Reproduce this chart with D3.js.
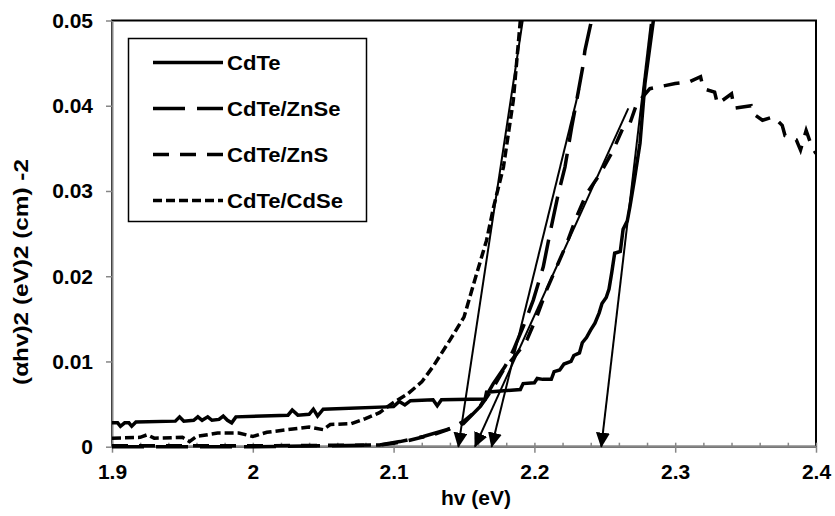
<!DOCTYPE html>
<html>
<head>
<meta charset="utf-8">
<script src="https://cdn.jsdelivr.net/npm/d3@7"></script>
<style>
  body { margin: 0; background: #fff; }
  text { font-family: "Liberation Sans", Arial, sans-serif; font-weight: bold; fill: #000; }
</style>
</head>
<body>
<div id="chart"></div>
<script>
// data: [hv (eV), (ahv)^2]
const cdte = [[1.900,0.0028],[1.904,0.0028],[1.906,0.0024],[1.909,0.0028],[1.912,0.0028],[1.914,0.0024],[1.917,0.0029],
  [1.945,0.0030],[1.948,0.0035],[1.951,0.0030],[1.958,0.0031],[1.961,0.0035],[1.964,0.0031],[1.968,0.0035],[1.971,0.0031],
  [1.976,0.0032],[1.979,0.0036],[1.982,0.0031],[1.985,0.0028],[1.988,0.0035],[2.025,0.0037],[2.028,0.0043],[2.032,0.0037],
  [2.040,0.0038],[2.043,0.0044],[2.046,0.0036],[2.050,0.0044],[2.100,0.0047],[2.104,0.0053],[2.108,0.0049],[2.112,0.0054],
  [2.128,0.0055],[2.131,0.0048],[2.134,0.0055],[2.165,0.0056],[2.166,0.0064],[2.190,0.0067],[2.192,0.0074],[2.200,0.0075],
  [2.202,0.0080],[2.206,0.0079],[2.212,0.0079],[2.214,0.0088],[2.218,0.0090],[2.221,0.0097],[2.226,0.0100],[2.228,0.0107],
  [2.232,0.0110],[2.234,0.0122],[2.237,0.0128],[2.240,0.0137],[2.243,0.0145],[2.246,0.0157],[2.248,0.0168],[2.251,0.0175],
  [2.253,0.0185],[2.255,0.0205],[2.257,0.0227],[2.261,0.0229],[2.263,0.0255],[2.266,0.0265],[2.268,0.0283],[2.271,0.0313],
  [2.275,0.0356],[2.2785,0.0426],[2.2845,0.0500],[2.287,0.0540]];

const znse = [[1.900,0.0000],[2.000,0.0000],[2.090,0.0002],[2.1045,0.0006],[2.1211,0.0012],[2.1377,0.0020],[2.1495,0.0027],
  [2.1614,0.0047],[2.1708,0.0074],[2.1791,0.0094],[2.185,0.0113],[2.1921,0.0141],[2.1992,0.0172],[2.2063,0.0211],
  [2.211,0.0250],[2.217,0.0297],[2.2217,0.0328],[2.2265,0.0375],[2.230,0.0406],[2.2343,0.0445],[2.2359,0.0465],
  [2.240,0.0496],[2.242,0.0530]];

const zns = [[1.900,0.0001],[2.000,0.0001],[2.090,0.0002],[2.100,0.0004],[2.110,0.0007],[2.120,0.0011],[2.130,0.0015],
  [2.140,0.0021],[2.150,0.0030],[2.160,0.0044],[2.165,0.0055],[2.171,0.0070],[2.178,0.0090],[2.1875,0.0109],[2.1946,0.0125],
  [2.2016,0.0152],[2.2087,0.0184],[2.2158,0.0211],[2.2229,0.0238],[2.230,0.0270],[2.2371,0.0297],[2.2466,0.0320],
  [2.256,0.0348],[2.2632,0.0375],[2.268,0.0380],[2.2726,0.0402],[2.282,0.0420],[2.300,0.0426],[2.310,0.0428],
  [2.318,0.0434],[2.320,0.0420],[2.328,0.0416],[2.330,0.0402],[2.340,0.0414],[2.342,0.0397],[2.354,0.0400],
  [2.356,0.0390],[2.362,0.0383],[2.370,0.0387],[2.376,0.0377],[2.378,0.0365],[2.386,0.0360],[2.389,0.0348],
  [2.393,0.0371],[2.397,0.0352],[2.400,0.0344]];

const cdse = [[1.900,0.0010],[1.920,0.0011],[1.925,0.0014],[1.930,0.0010],[1.950,0.0011],[1.955,0.0006],[1.960,0.0012],
  [1.975,0.0016],[1.990,0.0016],[2.000,0.0012],[2.010,0.0017],[2.020,0.0019],[2.030,0.0021],[2.040,0.0023],[2.050,0.0020],
  [2.055,0.0026],[2.070,0.0027],[2.080,0.0033],[2.090,0.0040],[2.100,0.0052],[2.110,0.0062],[2.120,0.0076],[2.128,0.0094],
  [2.140,0.0125],[2.150,0.0152],[2.159,0.0203],[2.166,0.0242],[2.171,0.0281],[2.178,0.0328],[2.185,0.0406],[2.190,0.0500],
  [2.192,0.0530]];

const seriesNames = ["CdTe", "CdTe/ZnSe", "CdTe/ZnS", "CdTe/CdSe"];
const seriesData = [cdte, znse, zns, cdse];

// tangent lines: top point and band-gap intercept on the x axis
const tangentTop = [[2.1917,0.0500],[2.2319,0.0420],[2.2667,0.0397],[2.2826,0.0496]];
const tangentGap = [2.146, 2.1696, 2.1578, 2.2475];

const xTicks = [1.9, 2.0, 2.1, 2.2, 2.3, 2.4];
const xTickLabels = ["1.9", "2", "2.1", "2.2", "2.3", "2.4"];
const xMinorTicks = d3.range(0, 26).map(i => 1.9 + i * 0.02);
const yTicks = [0, 0.01, 0.02, 0.03, 0.04, 0.05];
const yTickLabels = ["0", "0.01", "0.02", "0.03", "0.04", "0.05"];

const w = 835, h = 516;
const m = { left: 112, right: 816, top: 20.5, bottom: 446.7 };

const dashes = [null, "32,12", "16,11", "9,4"];

const svg = d3.select("#chart").append("svg").attr("width", w).attr("height", h);

const x = d3.scaleLinear().domain([1.9, 2.4]).range([m.left, m.right]);
const y = d3.scaleLinear().domain([0, 0.05]).range([m.bottom, m.top]);

function stretch(sel, k) {
  sel.each(function () {
    const len = this.getComputedTextLength();
    d3.select(this).attr("textLength", len * k).attr("lengthAdjust", "spacingAndGlyphs");
  });
}

const defs = svg.append("defs");
defs.append("clipPath").attr("id", "plotClip")
  .append("rect").attr("x", m.left).attr("y", m.top).attr("width", m.right - m.left).attr("height", m.bottom - m.top + 3);
defs.append("marker").attr("id", "arrow")
  .attr("viewBox", "0 0 15 14").attr("refX", 14).attr("refY", 7)
  .attr("markerWidth", 15).attr("markerHeight", 14)
  .attr("markerUnits", "userSpaceOnUse").attr("orient", "auto")
  .append("path").attr("d", "M0,0L15,7L0,14Z").attr("fill", "#000");

// plot frame
svg.append("rect").attr("x", m.left).attr("y", m.top).attr("width", m.right - m.left).attr("height", m.bottom - m.top)
  .attr("fill", "none").attr("stroke", "#000").attr("stroke-width", 2);

// axes
const gx = svg.append("g").attr("transform", `translate(0,${m.bottom})`)
  .call(d3.axisBottom(x).tickValues(xTicks).tickFormat((d, i) => xTickLabels[i]).tickSize(6).tickPadding(12));
const gxm = svg.append("g").attr("transform", `translate(0,${m.bottom})`)
  .call(d3.axisBottom(x).tickValues(xMinorTicks).tickFormat("").tickSize(-4).tickSizeOuter(0));
gxm.select(".domain").remove();
const gy = svg.append("g").attr("transform", `translate(${m.left},0)`)
  .call(d3.axisLeft(y).tickValues(yTicks).tickFormat((d, i) => yTickLabels[i]).tickSize(6).tickPadding(13).tickSizeOuter(0));
gx.select(".domain").attr("d", `M${m.left},0H${m.right}`);

[gx, gxm, gy].forEach(g => {
  g.selectAll(".domain").attr("stroke", "#868686").attr("stroke-width", 2);
  g.selectAll(".tick line").attr("stroke", "#868686").attr("stroke-width", 1.5);
  g.selectAll("text").attr("font-size", 20).attr("fill", "#000")
    .style("font-family", "'Liberation Sans', Arial, sans-serif").style("font-weight", "bold");
});
gy.selectAll(".tick text").attr("dy", "0.35em");
stretch(gx.selectAll(".tick text"), 1.05);
stretch(gy.selectAll(".tick text"), 1.05);

// series, drawn over the axes
const line = d3.line().x(d => x(d[0])).y(d => y(d[1]));
svg.append("g").attr("clip-path", "url(#plotClip)")
  .selectAll("path").data(seriesData).enter().append("path")
  .attr("d", line)
  .attr("fill", "none").attr("stroke", "#000").attr("stroke-width", 3.5)
  .attr("stroke-dasharray", (d, i) => dashes[i]);

// tangents with arrows
svg.append("g").selectAll("line").data(tangentTop).enter().append("line")
  .attr("x1", d => x(d[0])).attr("y1", d => y(d[1]))
  .attr("x2", (d, i) => x(tangentGap[i])).attr("y2", y(0))
  .attr("stroke", "#000").attr("stroke-width", 2)
  .attr("marker-end", "url(#arrow)");

// axis titles
svg.append("text").attr("x", 476).attr("y", 505).attr("text-anchor", "middle")
  .attr("font-size", 20).text("hv (eV)").call(stretch, 1.05);
svg.append("text").attr("transform", "translate(28,272) rotate(-90)").attr("text-anchor", "middle")
  .attr("font-size", 20).text("(αhv)2 (eV)2 (cm) -2").attr("textLength", 226).attr("lengthAdjust", "spacingAndGlyphs");

// legend
const legend = svg.append("g");
legend.append("rect").attr("x", 128.5).attr("y", 38.5).attr("width", 238).attr("height", 183)
  .attr("fill", "#fff").attr("stroke", "#000").attr("stroke-width", 1.5);
const rows = legend.selectAll("g.row").data(seriesNames).enter().append("g")
  .attr("transform", (d, i) => `translate(0,${62.5 + i * 46})`);
rows.append("line").attr("x1", 153).attr("x2", 223).attr("y1", 0).attr("y2", 0)
  .attr("stroke", "#000").attr("stroke-width", 3.5).attr("stroke-dasharray", (d, i) => dashes[i]);
rows.append("text").attr("x", 227).attr("dy", "0.35em").attr("font-size", 21).text(d => d)
  .call(stretch, 1.05);
</script>
</body>
</html>
